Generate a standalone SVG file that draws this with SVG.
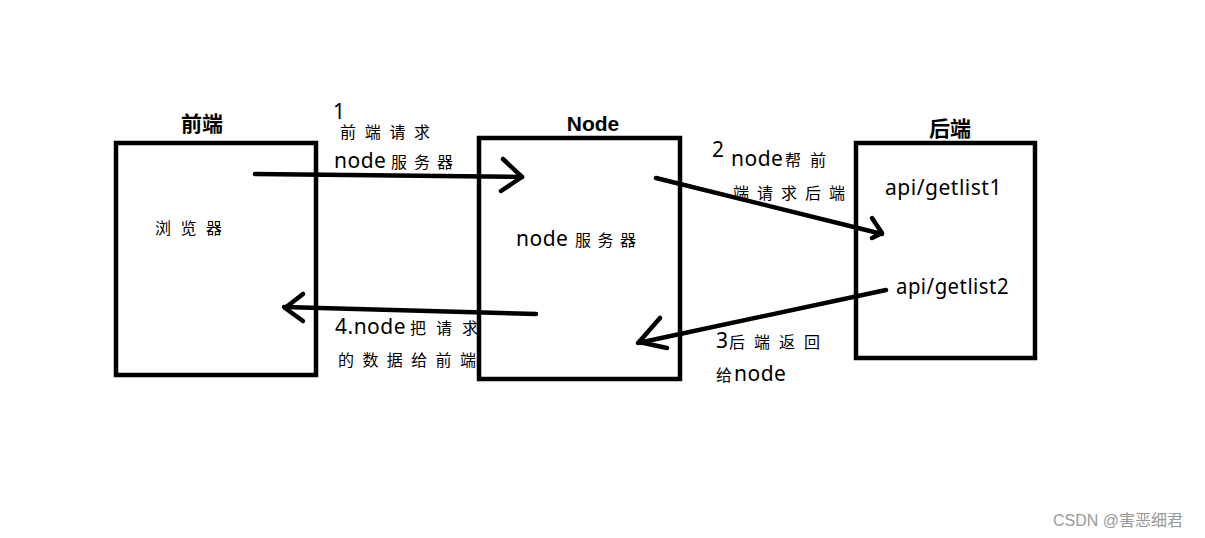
<svg xmlns="http://www.w3.org/2000/svg" width="1205" height="538" viewBox="0 0 1205 538">
<style>
.box{fill:none;stroke:#000;stroke-width:4.5}
.ln{fill:none;stroke:#000;stroke-width:4.5;stroke-linecap:round;stroke-linejoin:round}
.t{font-family:"Noto Sans","Noto Sans CJK SC",sans-serif;font-size:21px;letter-spacing:0.5px;fill:#000}
.c{font-family:"Noto Sans CJK SC",sans-serif;font-size:16px;fill:#000}
.h{font-family:"Liberation Sans","Noto Sans CJK SC",sans-serif;font-size:21px;font-weight:bold;fill:#000}
.w{font-family:"Liberation Sans","Noto Sans CJK SC",sans-serif;font-size:16px;fill:#999}
</style>
<rect width="1205" height="538" fill="#fff"/>
<g id="frontend">
<rect class="box" x="116" y="143" width="200" height="232"/>
<text class="h" x="202" y="131" text-anchor="middle">前端</text>
<text class="c" x="155" y="234" letter-spacing="9.5">浏览器</text>
</g>
<g id="node">
<rect class="box" x="479" y="138" width="201" height="241"/>
<text class="h" x="593" y="131" text-anchor="middle">Node</text>
<text class="t" x="516" y="246">node</text>
<text class="c" x="575" y="246" font-size="17" letter-spacing="6.5">服务器</text>
</g>
<g id="backend">
<rect class="box" x="856" y="143" width="179" height="215"/>
<text class="h" x="950" y="136" text-anchor="middle">后端</text>
<text class="t" x="885" y="195" textLength="117" lengthAdjust="spacingAndGlyphs">api/getlist1</text>
<text class="t" x="896" y="294" textLength="113" lengthAdjust="spacingAndGlyphs">api/getlist2</text>
</g>
<g id="connectors">
<path class="ln" d="M255 174 L522 177"/>
<path class="ln" d="M503 159 L522 177 L501 191"/>
<path class="ln" d="M656 178 L882 234"/>
<path class="ln" d="M872 218 L882 233 L872 238"/>
<path class="ln" d="M886 290 L638 343"/>
<path class="ln" d="M660 318 L639 342 L667 348"/>
<path class="ln" d="M536 314 L284 307"/>
<path class="ln" d="M303 294 L285 308 L303 321"/>
</g>
<g id="labels">
<text class="t" x="333" y="119" font-size="18">1</text>
<text class="c" x="340" y="138" letter-spacing="8.7">前端请求</text>
<text class="t" x="334" y="168">node</text>
<text class="c" x="391" y="168" font-size="17" letter-spacing="7">服务器</text>
<text class="t" x="712" y="157">2</text>
<text class="t" x="731" y="166">node</text>
<text class="c" x="785" y="166" letter-spacing="9">帮前</text>
<text class="c" x="733" y="199" letter-spacing="8">端请求后端</text>
<text class="t" x="716" y="348">3</text>
<text class="c" x="729" y="348" letter-spacing="9">后端返回</text>
<text class="c" x="716" y="381">给</text>
<text class="t" x="734" y="381">node</text>
<text class="t" x="335" y="334">4.node</text>
<text class="c" x="410" y="334" letter-spacing="10">把请求</text>
<text class="c" x="338" y="366" letter-spacing="8.4">的数据给前端</text>
</g>
<text class="w" x="1053" y="526">CSDN @害恶细君</text>
</svg>
